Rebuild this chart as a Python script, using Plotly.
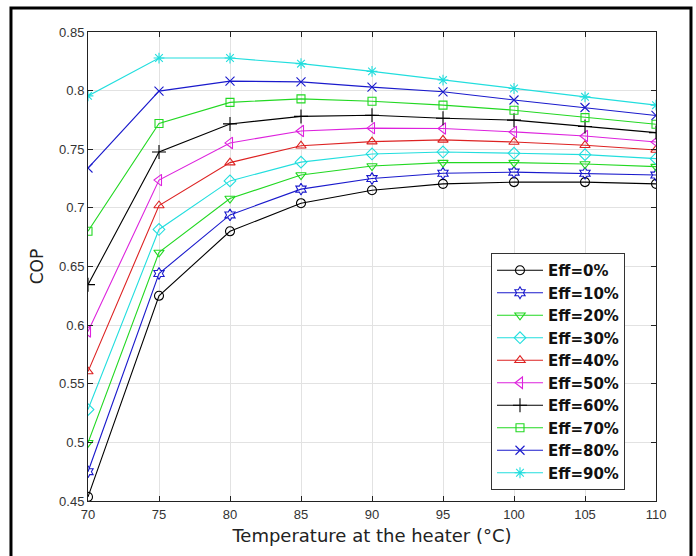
import plotly.graph_objects as go

temps = [70, 75, 80, 85, 90, 95, 100, 105, 110]
series_names = ["Eff=0%", "Eff=10%", "Eff=20%", "Eff=30%", "Eff=40%",
                "Eff=50%", "Eff=60%", "Eff=70%", "Eff=80%", "Eff=90%"]

eff0 = [0.4535, 0.625, 0.680, 0.704, 0.715, 0.7205, 0.722, 0.722, 0.7205]
eff10 = [0.475, 0.644, 0.694, 0.716, 0.725, 0.7295, 0.7305, 0.7295, 0.728]
eff20 = [0.4997, 0.662, 0.708, 0.728, 0.7357, 0.7386, 0.7386, 0.7374, 0.7352]
eff30 = [0.528, 0.6816, 0.723, 0.739, 0.746, 0.7477, 0.7466, 0.7454, 0.742]
eff40 = [0.5604, 0.702, 0.7386, 0.753, 0.7565, 0.758, 0.7562, 0.7534, 0.7494]
eff50 = [0.5946, 0.7237, 0.7554, 0.7656, 0.768, 0.7677, 0.7648, 0.7613, 0.7562]
eff60 = [0.6345, 0.7477, 0.7716, 0.778, 0.779, 0.7765, 0.7748, 0.7694, 0.7642]
eff70 = [0.680, 0.772, 0.790, 0.793, 0.791, 0.7876, 0.7833, 0.777, 0.7713]
eff80 = [0.734, 0.7996, 0.8081, 0.8075, 0.803, 0.799, 0.792, 0.7856, 0.7788]
eff90 = [0.7955, 0.8278, 0.8278, 0.823, 0.8164, 0.809, 0.8018, 0.7947, 0.7876]

values = [eff0, eff10, eff20, eff30, eff40, eff50, eff60, eff70, eff80, eff90]

y_ticks = [0.45, 0.5, 0.55, 0.6, 0.65, 0.7, 0.75, 0.8, 0.85]
y_tick_labels = ["0.45", "0.5", "0.55", "0.6", "0.65", "0.7", "0.75", "0.8", "0.85"]

colors = ["#000000", "#1a1acc", "#22d822", "#22dede", "#dd2222",
          "#dd22dd", "#000000", "#22d822", "#1a1acc", "#22dede"]
symbols = ["circle-open", "hexagram-open", "triangle-down-open", "diamond-open",
           "triangle-up-open", "triangle-left-open", "cross-thin-open",
           "square-open", "x-thin-open", "asterisk-open"]
sizes = [9, 9, 9, 9, 9, 10, 10, 8, 9, 9]

fig = go.Figure()
for name, vals, c, s, sz in zip(series_names, values, colors, symbols, sizes):
    fig.add_trace(go.Scatter(
        x=temps, y=vals, name=name, mode="lines+markers",
        line=dict(color=c, width=1.1),
        marker=dict(symbol=s, size=sz, color=c, line=dict(color=c, width=1.1)),
    ))

fig.update_layout(
    width=696, height=556,
    margin=dict(l=88, r=40, t=32, b=55),
    paper_bgcolor="white", plot_bgcolor="white",
    showlegend=True,
    legend=dict(
        x=0.7095, y=0.5288, xanchor="left", yanchor="top",
        bgcolor="white", bordercolor="#333333", borderwidth=1,
        font=dict(family="DejaVu Sans", size=15, color="#111111", weight="bold"),
        tracegroupgap=0, itemwidth=46,
    ),
    shapes=[dict(type="rect", xref="paper", yref="paper",
                 x0=-0.1356, x1=1.0616, y0=-0.25, y1=1.0512,
                 line=dict(color="black", width=3), fillcolor="rgba(0,0,0,0)",
                 layer="above")],
)

fig.update_xaxes(
    range=[70, 110], tickmode="array", tickvals=temps,
    ticks="inside", ticklen=5, tickcolor="#222222",
    showline=True, linecolor="#222222", linewidth=1, mirror="allticks",
    showgrid=True, gridcolor="#e2e2e2", gridwidth=1, zeroline=False,
    tickfont=dict(family="Liberation Sans", size=13, color="#333333"),
    ticklabelstandoff=1,
    title=dict(text="Temperature at the heater (°C)", standoff=8,
               font=dict(family="DejaVu Sans", size=18, color="#222222")),
)
fig.update_yaxes(
    range=[0.45, 0.85], tickmode="array", tickvals=y_ticks, ticktext=y_tick_labels,
    ticks="inside", ticklen=5, tickcolor="#222222",
    showline=True, linecolor="#222222", linewidth=1, mirror="allticks",
    showgrid=True, gridcolor="#e2e2e2", gridwidth=1, zeroline=False,
    tickfont=dict(family="Liberation Sans", size=13, color="#333333"),
    title=dict(text="COP", standoff=11,
               font=dict(family="DejaVu Sans", size=17, color="#222222")),
)

fig.write_html("out.html")
